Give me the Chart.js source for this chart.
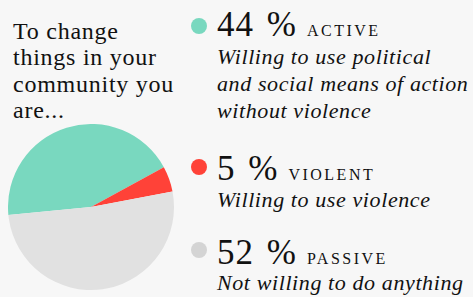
<!DOCTYPE html>
<html>
<head>
<meta charset="utf-8">
<script src="https://cdn.jsdelivr.net/npm/chart.js@4"></script>
<style>
  html, body { margin:0; padding:0; background:#f7f7f7; }
  body { width:473px; height:297px; position:relative; overflow:hidden; font-family:"Liberation Serif", serif; color:#111; }
  #title { position:absolute; left:13px; top:17.5px; font-size:24px; line-height:26.5px; width:190px; letter-spacing:0.75px; }
  #pieBox { position:absolute; left:8px; top:124px; width:166px; height:166px; }
  .dot { position:absolute; width:16px; height:16px; border-radius:50%; }
  .big { position:absolute; left:217px; font-size:35px; line-height:40px; white-space:nowrap; letter-spacing:1px; word-spacing:3px; }
  .cap { font-size:16px; letter-spacing:2.5px; margin-left:10px; word-spacing:0; }
  .desc { position:absolute; left:217px; font-size:22px; line-height:27px; font-style:italic; white-space:nowrap; letter-spacing:0.6px; }
</style>
</head>
<body>
<div id="title">To change<br>things in your<br>community you<br>are...</div>
<div id="pieBox"><canvas id="c" width="166" height="166"></canvas></div>
<div id="legend"></div>
<script>
const categories = ["ACTIVE", "VIOLENT", "PASSIVE"];
const values = [44, 5, 52];
const descriptions = [
  ["Willing to use political", "and social means of action", "without violence"],
  ["Willing to use violence"],
  ["Not willing to do anything"]
];
const sliceColors = ["#79d8bf", "#ff4238", "#e1e1e1"];
const dotColors = ["#79d8bf", "#ff4238", "#d4d4d4"];

// legend layout (positions only)
const bigTops = [5, 149, 233];
const descTops = [43, 186, 269];
const dotCenters = [26, 167, 250];

const legend = document.getElementById('legend');
categories.forEach((cat, i) => {
  const d = document.createElement('div');
  d.className = 'dot';
  d.style.left = (198.5 - 8) + 'px';
  d.style.top = (dotCenters[i] - 8) + 'px';
  d.style.background = dotColors[i];
  legend.appendChild(d);
  const b = document.createElement('div');
  b.className = 'big';
  b.style.top = bigTops[i] + 'px';
  b.innerHTML = values[i] + ' %<span class="cap">' + cat + '</span>';
  legend.appendChild(b);
  const t = document.createElement('div');
  t.className = 'desc';
  t.style.top = descTops[i] + 'px';
  t.innerHTML = descriptions[i].join('<br>');
  legend.appendChild(t);
});

new Chart(document.getElementById('c'), {
  type: 'pie',
  data: {
    labels: categories,
    datasets: [{
      data: values,
      backgroundColor: sliceColors,
      borderWidth: 0,
      hoverOffset: 0,
      offset: 0
    }]
  },
  options: {
    responsive: false,
    animation: false,
    rotation: 264.5,
    layout: { padding: 0 },
    plugins: { legend: { display: false }, tooltip: { enabled: false } },
    events: []
  }
});
</script>
</body>
</html>
